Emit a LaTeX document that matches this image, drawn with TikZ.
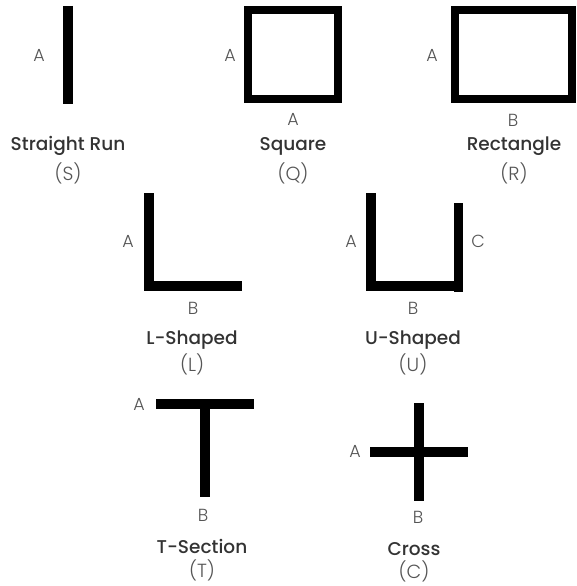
\documentclass[tikz,border=0pt]{standalone}
\usepackage{fontspec}
\setmainfont{Poppins}
\newfontfamily\lightf{Poppins Light}
\newfontfamily\medf{Poppins Medium}
\definecolor{titlec}{HTML}{333333}
\definecolor{labc}{HTML}{555555}
\begin{document}
\begin{tikzpicture}[x=1pt,y=-1pt,
  bar/.style={line width=9.5pt,line cap=butt,line join=miter},
  frame/.style={line width=8pt,line join=miter},
  lab/.style={font=\lightf\fontsize{17.5}{17.5}\selectfont,text=labc,inner sep=0pt},
  ttl/.style={font=\medf\fontsize{18.5}{18.5}\selectfont,text=titlec,inner sep=0pt},
  sub/.style={font=\lightf\fontsize{19}{19}\selectfont,text=labc,inner sep=0pt}]
\useasboundingbox (0,0) rectangle (576,586);
% Straight run
\draw[bar] (68,6) -- (68,104);
\node[lab] (sA) at (39,55) {A};
\node[ttl] (sT) at (68,146) {Straight Run};
\node[sub] (sS) at (68,173) {(S)};
% Square
\draw[frame] (248.3,9.8) rectangle (337.7,99.2);
\node[lab] (qA) at (230,55) {A};
\node[lab] (qA2) at (293,119) {A};
\node[ttl] (qT) at (293,146) {Square};
\node[sub] (qS) at (293,173) {(Q)};
% Rectangle
\draw[frame] (455,9.8) rectangle (572,99.2);
\node[lab] (rA) at (432,55) {A};
\node[lab] (rB) at (513,120) {B};
\node[ttl] (rT) at (514,146) {Rectangle};
\node[sub] (rS) at (514,173) {(R)};
% L-shaped
\draw[bar] (149,193.3) -- (149,286) -- (242,286);
\node[lab] (lA) at (128,241) {A};
\node[lab] (lB) at (193,308) {B};
\node[ttl] (lT) at (192,340) {L-Shaped};
\node[sub] (lS) at (192,364) {(L)};
% U-shaped
\draw[bar] (371,193.3) -- (371,286) -- (458.5,286);
\draw[bar] (458.5,203) -- (458.5,292);
\node[lab] (uA) at (351,241) {A};
\node[lab] (uC) at (478,241) {C};
\node[lab] (uB) at (413,308) {B};
\node[ttl] (uT) at (413,340) {U-Shaped};
\node[sub] (uS) at (413,364) {(U)};
% T-section
\draw[bar] (156,404) -- (254,404);
\draw[bar] (205,404) -- (205,496.7);
\node[lab] (tA) at (139,404) {A};
\node[lab] (tB) at (203,515) {B};
\node[ttl] (tT) at (202,546) {T-Section};
\node[sub] (tS) at (202,570) {(T)};
% Cross
\draw[bar] (419,403) -- (419,501);
\draw[bar] (370,452) -- (468,452);
\node[lab] (cA) at (355,451) {A};
\node[lab] (cB) at (418,517) {B};
\node[ttl] (cT) at (414,549) {Cross};
\node[sub] (cS) at (414,571) {(C)};
\end{tikzpicture}
\end{document}
